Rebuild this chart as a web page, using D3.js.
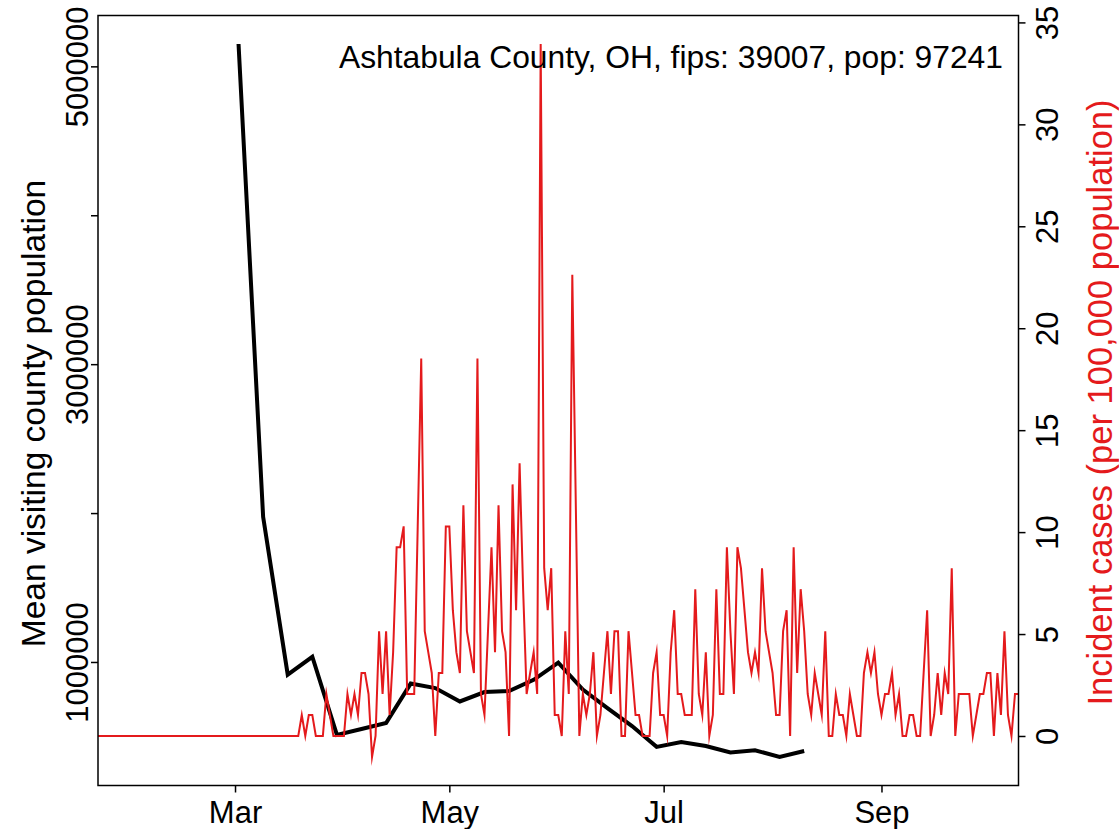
<!DOCTYPE html>
<html><head><meta charset="utf-8">
<script src="https://cdn.jsdelivr.net/npm/d3@7"></script>
<style>
body{margin:0;background:#fff}
svg{display:block}
text{font-family:"Liberation Sans",Arial,Helvetica,sans-serif}
</style>
</head><body>
<svg id="c" width="1119" height="829"></svg>
<script>
// ---------------- data ----------------
const titleText = "Ashtabula County, OH, fips: 39007, pop: 97241";
const leftAxisTitle = "Mean visiting county population";
const rightAxisTitle = "Incident cases (per 100,000 population)";

// daily incident cases per 100,000, starting 2020-01-22 (one value per day)
const caseStartDate = "2020-01-22";
const caseValues = [
  // Jan 22 - Feb 29
  0,0,0,0,0,0,0,0,0,0, 0,0,0,0,0,0,0,0,0,0, 0,0,0,0,0,0,0,0,0,0, 0,0,0,0,0,0,0,0,0,
  // Mar 1 - Mar 19
  0,0,0,0,0,0,0,0,0,0, 0,0,0,0,0,0,0,0,0,
  // Mar 20 - Mar 31
  1.03,0,1.03,1.03,0,0,0,2.06,1.03,0,0,0,
  // Apr 1 - Apr 30
  0,2.06,1.03,2.06,1.03,3.09,3.09,2.06,-1.03,0,
  5.14,2.06,5.14,1.03,4.11,9.26,9.26,10.28,2.06,2.06,
  2.06,10.28,18.51,5.14,4.11,3.09,0,3.09,3.09,10.28,
  // May 1 - May 31
  10.28,6.17,4.11,3.09,11.31,5.14,4.11,3.09,18.51,2.06,
  1.03,5.14,9.26,4.11,11.31,5.14,4.11,0,12.34,6.17,
  13.37,7.2,2.06,3.09,4.11,2.06,33.94,8.23,6.17,8.23,1.03,
  // Jun 1 - Jun 30
  1.03,0,5.14,2.06,22.62,11.31,0,2.06,1.03,2.06,
  4.11,0,1.03,3.09,5.14,2.06,5.14,5.14,0,0,
  5.14,3.09,1.03,1.03,0,0,0,3.09,4.11,1.03,
  // Jul 1 - Jul 31
  1.03,0,4.11,6.17,2.06,2.06,1.03,1.03,1.03,7.2,
  2.06,1.03,4.11,0,1.03,7.2,2.06,2.06,9.26,5.14,
  2.06,9.26,8.23,6.17,4.11,3.09,4.11,3.09,8.23,5.14,4.11,
  // Aug 1 - Aug 31
  3.09,1.03,1.03,5.14,6.17,0,9.26,3.09,7.2,5.14,
  2.06,1.03,3.09,2.06,1.03,5.14,0,0,2.06,1.03,
  1.03,0,2.06,1.03,0,0,3.09,4.11,3.09,4.11,2.06,
  // Sep 1 - Sep 30
  1.03,2.06,2.06,3.09,1.03,2.06,0,0,1.03,1.03,
  0,0,3.09,6.17,0,1.03,3.09,1.03,3.09,2.06,
  8.23,0,2.06,2.06,2.06,2.06,0,1.03,2.06,2.06,
  // Oct 1 - Oct 10
  3.09,3.09,0,3.09,1.03,5.14,1.03,0,2.06,2.06
];

// weekly mean visiting county population
const mobilityDates = [
  "2020-03-02","2020-03-09","2020-03-16","2020-03-23","2020-03-30","2020-04-06",
  "2020-04-13","2020-04-20","2020-04-27","2020-05-04","2020-05-11","2020-05-18",
  "2020-05-25","2020-06-01","2020-06-08","2020-06-15","2020-06-22","2020-06-29",
  "2020-07-06","2020-07-13","2020-07-20","2020-07-27","2020-08-03","2020-08-10"
];
const mobilityValues = [
  5150000,1975000,915000,1035000,510000,550000,
  590000,855000,825000,735000,798000,805000,
  880000,995000,815000,690000,570000,430000,
  463000,436000,392000,407000,362000,402000
];

const leftTicks = [1000000,2000000,3000000,4000000,5000000];
const leftTickLabels = ["1000000","","3000000","","5000000"];
const rightTicks = [0,5,10,15,20,25,30,35];
const monthTickDates = ["2020-03-01","2020-05-01","2020-07-01","2020-09-01"];
const monthTickLabels = ["Mar","May","Jul","Sep"];

// ---------------- layout ----------------
const plotL = 98, plotR = 1018.5, plotT = 15.5, plotB = 785.5;
const FS = 31;
const red = "#E41A1C";

const parse = d3.timeParse("%Y-%m-%d");
const start = parse(caseStartDate);
const cases = caseValues.map((v,i)=>({date:d3.timeDay.offset(start,i), v}));
const mob = mobilityDates.map((d,i)=>({date:parse(d), v:mobilityValues[i]}));

const svg = d3.select("#c");

const x = d3.scaleTime()
  .domain(d3.extent(cases, d=>d.date))
  .range([plotL, plotR]);

function padded(ext){ const r = ext[1]-ext[0]; return [ext[0]-0.04*r, ext[1]+0.04*r]; }
const yL = d3.scaleLinear().domain(padded(d3.extent(mobilityValues))).range([plotB, plotT]);
const yR = d3.scaleLinear().domain(padded(d3.extent(caseValues))).range([plotB, plotT]);

// lines
svg.append("path")
  .datum(mob)
  .attr("fill","none").attr("stroke","#000").attr("stroke-width",4)
  .attr("stroke-linejoin","miter").attr("stroke-linecap","butt")
  .attr("d", d3.line().x(d=>x(d.date)).y(d=>yL(d.v)));

svg.append("path")
  .datum(cases)
  .attr("fill","none").attr("stroke",red).attr("stroke-width",2)
  .attr("stroke-linejoin","miter").attr("stroke-miterlimit",10)
  .attr("d", d3.line().x(d=>x(d.date)).y(d=>yR(d.v)));

// box
svg.append("rect")
  .attr("x",plotL).attr("y",plotT).attr("width",plotR-plotL).attr("height",plotB-plotT)
  .attr("fill","none").attr("stroke","#000").attr("stroke-width",1.5);

// bottom axis
const gB = svg.append("g").attr("transform",`translate(0,${plotB})`)
  .call(d3.axisBottom(x).tickValues(monthTickDates.map(parse))
    .tickFormat((d,i)=>monthTickLabels[i]).tickSize(7).tickPadding(8));
gB.select(".domain").remove();
gB.selectAll("line").attr("stroke","#000").attr("stroke-width",1.5);
gB.selectAll("text").attr("font-size",FS).attr("fill","#000")
  .attr("font-family",'"Liberation Sans",Arial,sans-serif');

// left axis
const gL = svg.append("g").attr("transform",`translate(${plotL},0)`)
  .call(d3.axisLeft(yL).tickValues(leftTicks).tickFormat((d,i)=>leftTickLabels[i]).tickSize(7));
gL.select(".domain").remove();
gL.selectAll("line").attr("stroke","#000").attr("stroke-width",1.5);
gL.selectAll("text").attr("font-size",FS).attr("fill","#000")
  .attr("font-family",'"Liberation Sans",Arial,sans-serif')
  .attr("transform","rotate(-90)").attr("x",0).attr("y",-10).attr("dy",0)
  .attr("text-anchor","middle");

// right axis
const gR = svg.append("g").attr("transform",`translate(${plotR},0)`)
  .call(d3.axisRight(yR).tickValues(rightTicks).tickFormat(d3.format("d")).tickSize(7));
gR.select(".domain").remove();
gR.selectAll("line").attr("stroke","#000").attr("stroke-width",1.5);
gR.selectAll("text").attr("font-size",FS).attr("fill","#000")
  .attr("font-family",'"Liberation Sans",Arial,sans-serif')
  .attr("transform","rotate(-90)").attr("x",0).attr("y",39).attr("dy",0)
  .attr("text-anchor","middle");

// axis titles
const midY = (plotT+plotB)/2;
svg.append("text").attr("transform",`translate(45,${midY + 13}) rotate(-90)`)
  .attr("text-anchor","middle").attr("font-size",33.5).attr("fill","#000").text(leftAxisTitle);
svg.append("text").attr("transform",`translate(1112,${midY + 2}) rotate(-90)`)
  .attr("text-anchor","middle").attr("font-size",34.5).attr("fill",red).text(rightAxisTitle);

// title
svg.append("text").attr("x",1003).attr("y",68).attr("text-anchor","end")
  .attr("font-size",31.8).attr("fill","#000").text(titleText);
</script>
</body></html>
